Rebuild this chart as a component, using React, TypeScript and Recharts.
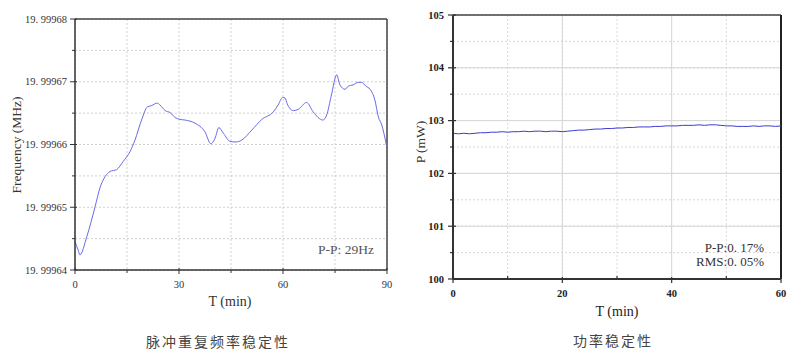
import React from 'react';
import { LineChart, Line, XAxis, YAxis, CartesianGrid, ReferenceLine } from 'recharts';

// ---- Left chart: pulse repetition frequency stability ----
const freqTime = [
  0, 0.9, 1.4, 3.4, 5.8, 7.2, 8.7, 10.1, 12.0, 13.9, 15.9, 17.3, 19.2, 20.9, 22.1, 23.7, 24.5, 26.0, 27.4,
  28.9, 30.3, 31.7, 34.6, 37.5, 39.2, 39.8, 40.4, 41.5, 42.8, 44.7, 46.4, 48.1, 51.0, 53.9, 57.2, 58.6,
  59.9, 60.6, 61.2, 63.0, 64.4, 66.8, 68.7, 71.5, 72.6, 73.9, 75.5, 76.4, 77.9, 78.8, 80.2, 81.7, 82.7,
  83.9, 85.1, 86.5, 87.5, 88.5, 89.1, 89.9,
];
const freqMHz = [
  19.9996445, 19.9996432, 19.9996424, 19.9996453, 19.9996501, 19.9996531, 19.9996549, 19.9996557,
  19.999656, 19.9996573, 19.9996589, 19.9996607, 19.9996639, 19.999666, 19.9996662, 19.9996666,
  19.9996663, 19.9996654, 19.9996651, 19.9996643, 19.999664, 19.9996639, 19.9996634, 19.999662,
  19.9996601, 19.9996604, 19.999661, 19.9996627, 19.9996618, 19.9996605, 19.9996604, 19.9996607,
  19.9996623, 19.999664, 19.9996652, 19.9996663, 19.9996675, 19.9996674, 19.9996665, 19.9996654,
  19.9996656, 19.9996667, 19.9996652, 19.9996639, 19.9996647, 19.9996677, 19.9996711, 19.9996695,
  19.9996688, 19.9996693, 19.9996695, 19.9996699, 19.9996699, 19.9996693, 19.9996688, 19.9996671,
  19.9996644, 19.9996631, 19.9996618, 19.9996597,
];
const freqYTicks = [19.99964, 19.999645, 19.99965, 19.999655, 19.99966, 19.999665, 19.99967, 19.999675, 19.99968];
const freqYMajor = [19.99964, 19.99965, 19.99966, 19.99967, 19.99968];
const freqYLabels = ['19. 99964', '19. 99965', '19. 99966', '19. 99967', '19. 99968'];
const freqXTicks = [0, 15, 30, 45, 60, 75, 90];
const freqXMajor = [0, 30, 60, 90];

// ---- Right chart: power stability ----
const powerTime = [
  0, 1, 2, 3, 4, 5, 6, 7, 8, 9, 10, 11, 12, 13, 14, 15, 16, 17, 18, 19, 20, 21, 22, 23, 24, 25, 26, 27, 28,
  29, 30, 31, 32, 33, 34, 35, 36, 37, 38, 39, 40, 41, 42, 43, 44, 45, 46, 47, 48, 49, 50, 51, 52, 53, 54,
  55, 56, 57, 58, 59, 60,
];
const powerMW = [
  102.76, 102.75, 102.76, 102.75, 102.76, 102.77, 102.77, 102.78, 102.78, 102.79, 102.78, 102.79, 102.79,
  102.8, 102.79, 102.8, 102.8, 102.79, 102.8, 102.8, 102.79, 102.8, 102.81, 102.82, 102.82, 102.83, 102.84,
  102.84, 102.85, 102.85, 102.86, 102.86, 102.87, 102.87, 102.88, 102.88, 102.88, 102.89, 102.89, 102.9,
  102.9, 102.9, 102.91, 102.91, 102.91, 102.92, 102.91, 102.92, 102.92, 102.91, 102.9, 102.9, 102.89,
  102.89, 102.89, 102.9, 102.89, 102.9, 102.9, 102.89, 102.9,
];
const powerYTicks = [100, 100.5, 101, 101.5, 102, 102.5, 103, 103.5, 104, 104.5, 105];
const powerYMajor = [100, 101, 102, 103, 104, 105];
const powerXTicks = [0, 10, 20, 30, 40, 50, 60];
const powerXMajor = [0, 20, 40, 60];

const freqData = freqTime.map((t, i) => ({ t, f: freqMHz[i] }));
const powerData = powerTime.map((t, i) => ({ t, p: powerMW[i] }));

const SERIF = '"Liberation Serif", "DejaVu Serif", serif';
const CJK = '"Noto Sans CJK SC", sans-serif';

const isMajor = (v: number, majors: number[]) => majors.some((m) => Math.abs(m - v) < 1e-9);

const FreqYTick = (props: any) => {
  const { x, y, payload } = props;
  const v = payload.value;
  const idx = freqYMajor.findIndex((m) => Math.abs(m - v) < 1e-9);
  if (idx < 0) {
    return <line x1={x - 3} x2={x} y1={y} y2={y} stroke="#333" strokeWidth={1} />;
  }
  return (
    <g>
      <line x1={x - 5} x2={x + 2} y1={y} y2={y} stroke="#333" strokeWidth={1} />
      <text x={x - 8} y={y} textAnchor="end" dominantBaseline="central" fontSize={10.5} fill="#333" fontFamily={SERIF}>
        {freqYLabels[idx]}
      </text>
    </g>
  );
};

const FreqXTick = (props: any) => {
  const { x, y, payload } = props;
  const v = payload.value;
  if (!isMajor(v, freqXMajor)) {
    return <line x1={x} x2={x} y1={y} y2={y + 3} stroke="#333" strokeWidth={1} />;
  }
  return (
    <g>
      <line x1={x} x2={x} y1={y - 2} y2={y + 4} stroke="#333" strokeWidth={1} />
      <text x={x} y={y + 14} textAnchor="middle" dominantBaseline="central" fontSize={10.5} fill="#333" fontFamily={SERIF}>
        {String(v)}
      </text>
    </g>
  );
};

const PowerYTick = (props: any) => {
  const { x, y, payload } = props;
  const v = payload.value;
  if (!isMajor(v, powerYMajor)) {
    return <line x1={x - 3} x2={x} y1={y} y2={y} stroke="#333" strokeWidth={1.2} />;
  }
  return (
    <g>
      <line x1={x - 5} x2={x + 3} y1={y} y2={y} stroke="#333" strokeWidth={1.2} />
      <text x={x - 9} y={y} textAnchor="end" dominantBaseline="central" fontSize={10.5} fontWeight="bold" fill="#222" fontFamily={SERIF}>
        {String(v)}
      </text>
    </g>
  );
};

const PowerXTick = (props: any) => {
  const { x, y, payload } = props;
  const v = payload.value;
  if (!isMajor(v, powerXMajor)) {
    return <line x1={x} x2={x} y1={y - 3} y2={y} stroke="#333" strokeWidth={1.2} />;
  }
  return (
    <g>
      <line x1={x} x2={x} y1={y - 2} y2={y + 4} stroke="#333" strokeWidth={1.2} />
      <text x={x} y={y + 14} textAnchor="middle" dominantBaseline="central" fontSize={10.5} fontWeight="bold" fill="#222" fontFamily={SERIF}>
        {String(v)}
      </text>
    </g>
  );
};

export default function App() {
  return (
    <div style={{ position: 'absolute', left: 0, top: 0, width: 800, height: 357, background: '#fff', overflow: 'hidden' }}>
      <div style={{ position: 'absolute', left: 0, top: 0 }}>
        <LineChart width={400} height={300} data={freqData} margin={{ top: 19, right: 13, bottom: 0, left: 0 }}>
          <CartesianGrid stroke="#d0d0d0" strokeDasharray="2 2" />
          <XAxis
            dataKey="t"
            type="number"
            domain={[0, 90]}
            ticks={freqXTicks}
            interval={0}
            height={30}
            tickSize={0}
            tickMargin={0}
            tickLine={false}
            axisLine={{ stroke: '#333', strokeWidth: 1.5 }}
            tick={<FreqXTick />}
          />
          <YAxis
            dataKey="f"
            type="number"
            domain={[19.99964, 19.99968]}
            ticks={freqYTicks}
            interval={0}
            width={75}
            tickSize={0}
            tickMargin={0}
            tickLine={false}
            axisLine={{ stroke: '#333', strokeWidth: 1.5 }}
            tick={<FreqYTick />}
            allowDataOverflow
          />
          <ReferenceLine y={19.99968} stroke="#444" strokeWidth={1.5} ifOverflow="visible" />
          <ReferenceLine x={90} stroke="#444" strokeWidth={1.5} ifOverflow="visible" />
          <Line
            type="monotone"
            dataKey="f"
            stroke="#6a6ae8"
            strokeWidth={1}
            dot={false}
            isAnimationActive={false}
          />
        </LineChart>
      </div>

      <div style={{ position: 'absolute', left: 400, top: 0 }}>
        <LineChart width={400} height={310} data={powerData} margin={{ top: 15, right: 19, bottom: 0, left: 0 }}>
          <CartesianGrid stroke="#d8d8d8" strokeDasharray="2 2" />
          {[101, 102, 103, 104].map((v) => (
            <ReferenceLine key={'py' + v} y={v} stroke="#d6d6d6" strokeWidth={1} />
          ))}
          {[20, 40].map((v) => (
            <ReferenceLine key={'px' + v} x={v} stroke="#d6d6d6" strokeWidth={1} />
          ))}
          <XAxis
            dataKey="t"
            type="number"
            domain={[0, 60]}
            ticks={powerXTicks}
            interval={0}
            height={31}
            tickSize={0}
            tickMargin={0}
            tickLine={false}
            axisLine={{ stroke: '#333', strokeWidth: 2 }}
            tick={<PowerXTick />}
          />
          <YAxis
            dataKey="p"
            type="number"
            domain={[100, 105]}
            ticks={powerYTicks}
            interval={0}
            width={53}
            tickSize={0}
            tickMargin={0}
            tickLine={false}
            axisLine={{ stroke: '#333', strokeWidth: 2 }}
            tick={<PowerYTick />}
          />
          <ReferenceLine y={105} stroke="#444" strokeWidth={1.5} ifOverflow="visible" />
          <ReferenceLine x={60} stroke="#222" strokeWidth={2} ifOverflow="visible" />
          <Line
            type="linear"
            dataKey="p"
            stroke="#3c3cd0"
            strokeWidth={1}
            dot={false}
            isAnimationActive={false}
          />
        </LineChart>
      </div>

      <svg width={800} height={357} style={{ position: 'absolute', left: 0, top: 0, pointerEvents: 'none' }}>
        <text
          x={16}
          y={145}
          transform="rotate(-90 16 145)"
          textAnchor="middle"
          dominantBaseline="central"
          fontSize={13.5}
          fill="#333"
          fontFamily={SERIF}
        >
          Frequency (MHz)
        </text>
        <text x={230} y={301} textAnchor="middle" dominantBaseline="central" fontSize={14} fill="#333" fontFamily={SERIF}>
          T (min)
        </text>
        <text x={346} y={249} textAnchor="middle" dominantBaseline="central" fontSize={13.5} fill="#555" fontFamily={SERIF}>
          P-P: 29Hz
        </text>
        <text x={218} y={341} textAnchor="middle" dominantBaseline="central" fontSize={14} fill="#444" fontFamily={CJK} letterSpacing={2}>
          脉冲重复频率稳定性
        </text>

        <text
          x={420}
          y={142}
          transform="rotate(-90 420 142)"
          textAnchor="middle"
          dominantBaseline="central"
          fontSize={13.5}
          fill="#333"
          fontFamily={SERIF}
        >
          P (mW)
        </text>
        <text x={617} y={311} textAnchor="middle" dominantBaseline="central" fontSize={14} fill="#222" fontFamily={SERIF}>
          T (min)
        </text>
        <text x={764} y={247} textAnchor="end" dominantBaseline="central" fontSize={13} fill="#333" fontFamily={SERIF}>
          P-P:0. 17%
        </text>
        <text x={764} y={261} textAnchor="end" dominantBaseline="central" fontSize={13} fill="#333" fontFamily={SERIF}>
          RMS:0. 05%
        </text>
        <text x={613} y={340} textAnchor="middle" dominantBaseline="central" fontSize={14} fill="#444" fontFamily={CJK} letterSpacing={2}>
          功率稳定性
        </text>
      </svg>
    </div>
  );
}
